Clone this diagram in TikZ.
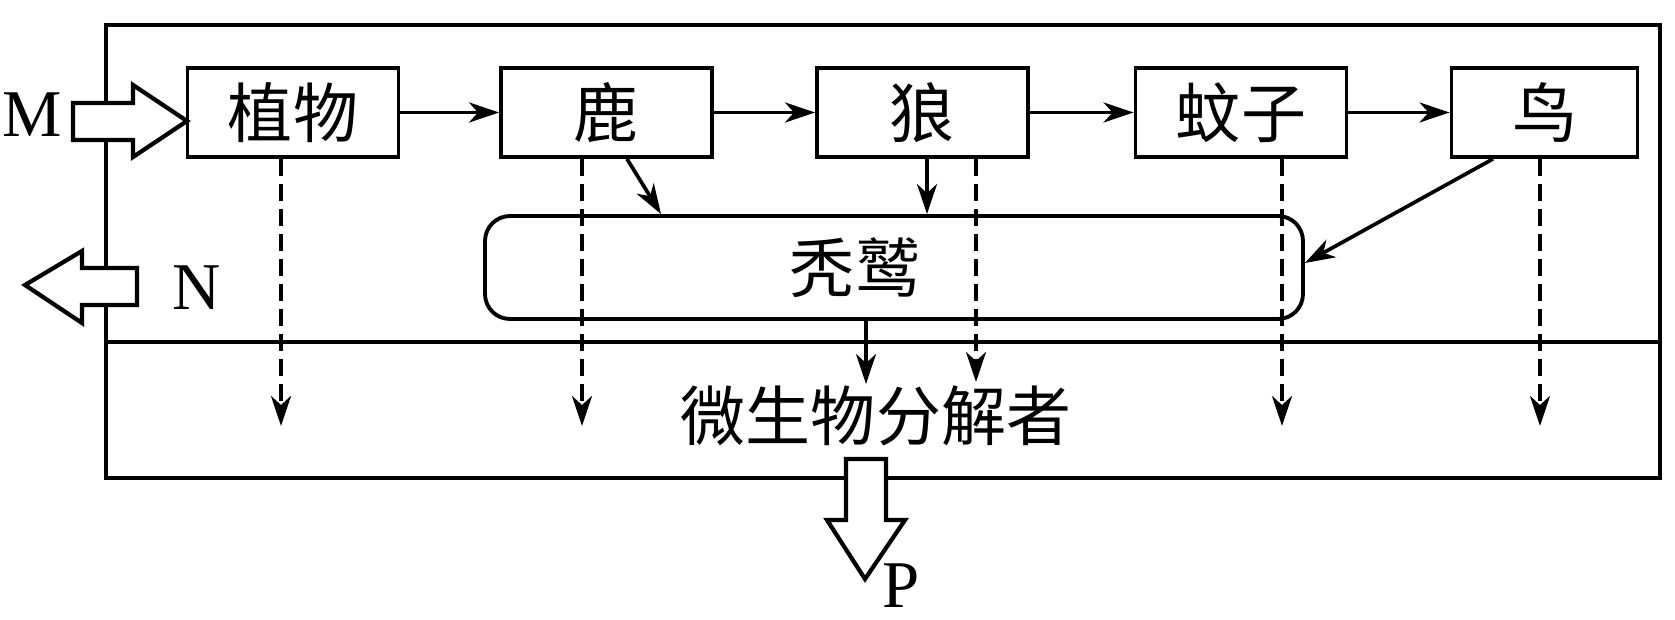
\documentclass[tikz,border=0pt]{standalone}
\usepackage{fontspec}
\setmainfont{Liberation Serif}
\newfontfamily\cjk{Noto Sans CJK SC}
\usetikzlibrary{arrows.meta}

\begin{document}
\begin{tikzpicture}[x=0.1mm, y=0.1mm, line width=1.1pt, font=\fontsize{18.5pt}{22pt}\selectfont]
    % Styles
    \tikzstyle{block} = [rectangle, draw, minimum width=21.1mm, minimum height=8.9mm, inner sep=0pt, font=\fontsize{18.5pt}{22pt}\selectfont\cjk]
    \tikzstyle{roundblock} = [rectangle, draw, rounded corners=2.5mm, minimum width=81.8mm, minimum height=10.3mm, inner sep=0pt]
    \tikzstyle{arrow} = [->, line width=1.05pt, >={Stealth[length=3mm, width=2mm, inset=0.9mm]}]
    \tikzstyle{flow} = [arrow, line width=1.1pt, dash pattern=on 1.7mm off 0.8mm]
    \tikzstyle{fat} = [draw, fill=white, line width=1.2pt, line join=miter]

    \useasboundingbox (0,0) rectangle (1675,620);

    % Frame
    \draw (106,595) rectangle (1660,142);
    \draw (106,278) -- (1660,278);

    % Nodes
    \node [block] (plant) at (293,507.5) {植物};
    \node [block] (deer) at (606.5,507.5) {鹿};
    \node [block] (wolf) at (922.5,507.5) {狼};
    \node [block] (mosquito) at (1241,507.5) {蚊子};
    \node [block, minimum width=18.6mm] (bird) at (1544.5,507.5) {鸟};
    \node [roundblock] (vulture) at (894,352.5) {};
    \node [font=\fontsize{18.5pt}{22pt}\selectfont\cjk] (vlabel) at (855,352.5) {秃鹫};
    \node [inner sep=0pt, font=\fontsize{18.5pt}{22pt}\selectfont\cjk] (decomp) at (876,204) {微生物分解者};

    % Food chain
    \draw [arrow] (plant) -- (deer);
    \draw [arrow] (deer) -- (wolf);
    \draw [arrow] (wolf) -- (mosquito);
    \draw [arrow] (mosquito) -- (bird);
    \draw [arrow] ([xshift=2.05mm]deer.south) -- ([xshift=-23.3mm]vulture.north);
    \draw [arrow] ([xshift=0.45mm]wolf.south) -- ([xshift=0.45mm]wolf.south |- vulture.north);
    \draw [arrow] ([xshift=-5.15mm]bird.south) -- ([yshift=0.45mm]vulture.east);
    \draw [arrow] ([xshift=-2.8mm]vulture.south) -- ([xshift=-2.8mm]vulture.south |- decomp.north);

    % Remains to decomposers
    \coordinate (d1) at (281,194);
    \coordinate (d2) at (582,194);
    \coordinate (d3) at (976,238);
    \coordinate (d4) at (1282,194);
    \coordinate (d5) at (1540,194);
    \draw [flow] (plant.south -| d1) -- (d1);
    \draw [flow] (deer.south -| d2) -- (d2);
    \draw [flow] (wolf.south -| d3) -- (d3);
    \draw [flow] (mosquito.south -| d4) -- (d4);
    \draw [flow] (bird.south -| d5) -- (d5);

    % Energy in and out
    \coordinate (mtip) at (187,499);
    \draw [fat] (mtip) -- ++(-54,36) -- ++(0,-18) -- ++(-60,0) -- ++(0,-37) -- ++(60,0) -- ++(0,-17) -- cycle;
    \coordinate (ntip) at (25,335);
    \draw [fat] (ntip) -- ++(57,34) -- ++(0,-17) -- ++(55,0) -- ++(0,-37) -- ++(-55,0) -- ++(0,-18) -- cycle;
    \coordinate (ptip) at (865,41);
    \draw [fat] (ptip) -- ++(-38,59) -- ++(19,0) -- ++(0,61) -- ++(40,0) -- ++(0,-61) -- ++(19,0) -- cycle;
    \node [font=\fontsize{19pt}{22pt}\selectfont] (mlabel) at (32,505) {M};
    \node [font=\fontsize{19pt}{22pt}\selectfont] (nlabel) at (197,332) {N};
    \node [font=\fontsize{19pt}{22pt}\selectfont] (plabel) at (901,34) {P};
\end{tikzpicture}
\end{document}
